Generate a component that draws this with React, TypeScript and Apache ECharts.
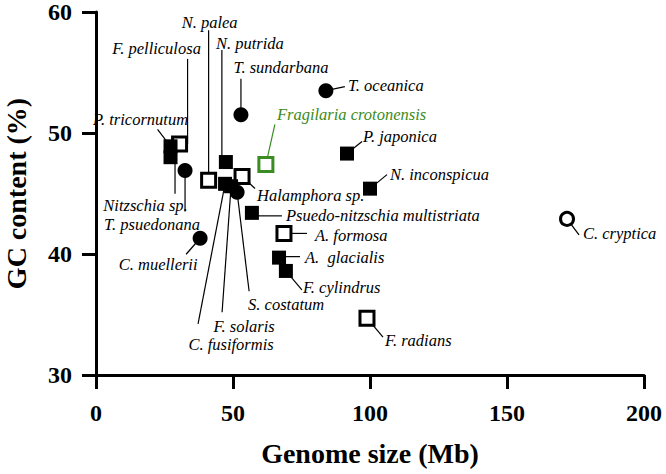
import React, { useEffect, useRef } from 'react';
import * as echarts from 'echarts';

// ---- data (genome size in Mb, GC content in %) ----
const filledSquareNames = ['P. tricornutum', 'Nitzschia sp.', 'N. putrida', 'C. fusiformis', 'F. solaris', 'Psuedo-nitzschia multistriata', 'A.  glacialis', 'F. cylindrus', 'P. japonica', 'N. inconspicua'];
const filledSquareGenome = [27.2, 27.2, 47.4, 47.1, 49.3, 56.9, 66.8, 69.3, 91.6, 100.0];
const filledSquareGC = [48.9, 48.0, 47.6, 45.8, 45.6, 43.4, 39.7, 38.6, 48.3, 45.4];

const openSquareNames = ['F. pelliculosa', 'N. palea', 'Halamphora sp.', 'A. formosa', 'F. radians'];
const openSquareGenome = [30.5, 41.1, 53.3, 68.6, 98.9];
const openSquareGC = [49.1, 46.1, 46.4, 41.7, 34.7];

const filledCircleNames = ['T. psuedonana', 'C. muellerii', 'T. sundarbana', 'S. costatum', 'T. oceanica'];
const filledCircleGenome = [32.5, 38.0, 52.9, 51.5, 83.9];
const filledCircleGC = [46.9, 41.3, 51.5, 45.1, 53.5];

const openCircleNames = ['C. cryptica'];
const openCircleGenome = [171.9];
const openCircleGC = [42.9];

const highlightNames = ['Fragilaria crotonensis'];
const highlightGenome = [62.0];
const highlightGC = [47.4];

const xTicks = { min: 0, max: 200, interval: 50 };
const yTicks = { min: 30, max: 60, interval: 10 };

// ---- label placement (offset of label anchor from point centre, px) ----
const labelPlacement: Record<string, [number, number, 'left' | 'center' | 'right']> = {
  'P. tricornutum': [-30, -27, 'center'],
  'Nitzschia sp.': [-25, 48, 'center'],
  'F. pelliculosa': [-23, -95, 'center'],
  'T. psuedonana': [-33, 54, 'center'],
  'C. muellerii': [-42, 26, 'center'],
  'N. palea': [1, -158, 'center'],
  'N. putrida': [24, -119, 'center'],
  'T. sundarbana': [40, -47, 'center'],
  'Halamphora sp.': [15, 19, 'left'],
  'C. fusiformis': [6, 161, 'center'],
  'F. solaris': [13, 140, 'center'],
  'S. costatum': [49, 112, 'center'],
  'Fragilaria crotonensis': [11, -50, 'left'],
  'Psuedo-nitzschia multistriata': [34, 3, 'left'],
  'A. formosa': [31, 2, 'left'],
  'A.  glacialis': [26, 0, 'left'],
  'F. cylindrus': [17, 17, 'left'],
  'T. oceanica': [22, -5, 'left'],
  'P. japonica': [16, -17, 'left'],
  'N. inconspicua': [20, -14, 'left'],
  'F. radians': [18, 22, 'left'],
  'C. cryptica': [16, 15, 'left'],
};

// ---- leader lines (start dx, dy, end dx, dy from point centre, px) ----
const leaderLines: Record<string, [number, number, number, number]> = {
  'P. tricornutum': [0, 0, -13, -17],
  'Nitzschia sp.': [4.5, 0, 4.5, 36.5],
  'F. pelliculosa': [8, 0, 8, -85],
  'T. psuedonana': [0, 0, 0, 41],
  'C. muellerii': [0, 0, -14, 16],
  'N. palea': [0, 0, 0, -150],
  'N. putrida': [-4, 0, -4, -112],
  'T. sundarbana': [0, 0, 0, -36],
  'Halamphora sp.': [0, 0, 13, 12],
  'C. fusiformis': [0, 0, -27, 140],
  'F. solaris': [0, 0, -9, 126],
  'S. costatum': [0, 0, 12, 99],
  'Fragilaria crotonensis': [0, 0, 9, -40],
  'Psuedo-nitzschia multistriata': [0, 3, 30, 3],
  'A. formosa': [0, 0, 23, 0],
  'A.  glacialis': [0, -1, 21, -1],
  'F. cylindrus': [0, 0, 16, 19],
  'T. oceanica': [0, 0, 19, -4],
  'P. japonica': [0, 0, 15, -12],
  'N. inconspicua': [0, 0, 17, -14],
  'F. radians': [0, 0, 16, 19],
  'C. cryptica': [0, 0, 12, 16],
};

const GREEN = '#3b8c22';
const FONT = '"Liberation Serif", "Times New Roman", serif';

const allNames = [...openSquareNames, ...filledSquareNames, ...filledCircleNames, ...openCircleNames, ...highlightNames];
const allGenome = [...openSquareGenome, ...filledSquareGenome, ...filledCircleGenome, ...openCircleGenome, ...highlightGenome];
const allGC = [...openSquareGC, ...filledSquareGC, ...filledCircleGC, ...openCircleGC, ...highlightGC];

function makeData(names: string[], xs: number[], ys: number[]) {
  return names.map((n, i) => ({ name: n, value: [xs[i], ys[i]] }));
}

function makeSeries(
  names: string[], xs: number[], ys: number[],
  symbol: string, size: number, itemStyle: any, textColor: string
) {
  return {
    type: 'scatter',
    data: makeData(names, xs, ys),
    symbol,
    symbolSize: size,
    itemStyle: { opacity: 1, ...itemStyle },
    label: {
      show: true,
      formatter: '{b}',
      fontFamily: FONT,
      fontStyle: 'italic',
      fontSize: 16.5,
      color: textColor,
    },
    labelLayout: (params: any) => {
      const name = names[params.dataIndex];
      const p = labelPlacement[name] || [10, 0, 'left'];
      const cx = params.rect.x + params.rect.width / 2;
      const cy = params.rect.y + params.rect.height / 2;
      return { x: cx + p[0], y: cy + p[1], align: p[2], verticalAlign: 'middle' };
    },
    emphasis: { disabled: true },
    z: 3,
  };
}

export default function App() {
  const ref = useRef<HTMLDivElement>(null);
  useEffect(() => {
    if (!ref.current) return;
    const chart = echarts.init(ref.current, undefined, { renderer: 'svg' });
    const axisLine = { show: true, lineStyle: { color: '#000', width: 3 } };
    const axisTick = { show: true, length: 14, lineStyle: { color: '#000', width: 3 } };
    const labelBase = { fontFamily: FONT, fontWeight: 'bold', fontSize: 24, color: '#000', lineHeight: 20 };
    chart.setOption({
      animation: false,
      backgroundColor: '#fff',
      grid: { left: 96, right: 22, top: 12, bottom: 99, containLabel: false, outerBoundsMode: 'none' },
      xAxis: {
        type: 'value',
        min: xTicks.min, max: xTicks.max, interval: xTicks.interval,
        name: 'Genome size (Mb)',
        nameLocation: 'middle',
        nameGap: 64,
        nameTextStyle: { fontFamily: FONT, fontWeight: 'bold', fontSize: 28, color: '#000' },
        axisLine, axisTick,
        axisLabel: { ...labelBase, margin: 28 },
        splitLine: { show: false },
      },
      yAxis: {
        type: 'value',
        min: yTicks.min, max: yTicks.max, interval: yTicks.interval,
        name: 'GC content (%)',
        nameLocation: 'middle',
        nameGap: 66,
        nameTextStyle: { fontFamily: FONT, fontWeight: 'bold', fontSize: 28, color: '#000', lineHeight: 28 },
        axisLine, axisTick,
        axisLabel: { ...labelBase, margin: 24 },
        splitLine: { show: false },
      },
      series: [
        {
          type: 'custom',
          silent: true,
          z: 1,
          data: allNames.map((n, i) => ({ name: n, value: [allGenome[i], allGC[i]] })),
          renderItem: (params: any, api: any) => {
            const pt = api.coord([api.value(0), api.value(1)]);
            const name = allNames[params.dataIndex];
            const s = leaderLines[name] || [0, 0, 0, 0];
            const color = highlightNames.includes(name) ? GREEN : '#000';
            return {
              type: 'line',
              shape: { x1: pt[0] + s[0], y1: pt[1] + s[1], x2: pt[0] + s[2], y2: pt[1] + s[3] },
              style: { stroke: color, lineWidth: 1.2 },
            };
          },
        },
        makeSeries(openSquareNames, openSquareGenome, openSquareGC, 'rect', 14,
          { color: '#fff', borderColor: '#000', borderWidth: 3 }, '#000'),
        makeSeries(filledSquareNames, filledSquareGenome, filledSquareGC, 'rect', 14,
          { color: '#000' }, '#000'),
        makeSeries(filledCircleNames, filledCircleGenome, filledCircleGC, 'circle', 15,
          { color: '#000' }, '#000'),
        makeSeries(openCircleNames, openCircleGenome, openCircleGC, 'circle', 13,
          { color: '#fff', borderColor: '#000', borderWidth: 3 }, '#000'),
        makeSeries(highlightNames, highlightGenome, highlightGC, 'rect', 14,
          { color: '#fff', borderColor: GREEN, borderWidth: 3 }, GREEN),
      ],
    });
    return () => chart.dispose();
  }, []);
  return <div ref={ref} style={{ width: 666, height: 474, position: 'absolute', left: 0, top: 0 }} />;
}
